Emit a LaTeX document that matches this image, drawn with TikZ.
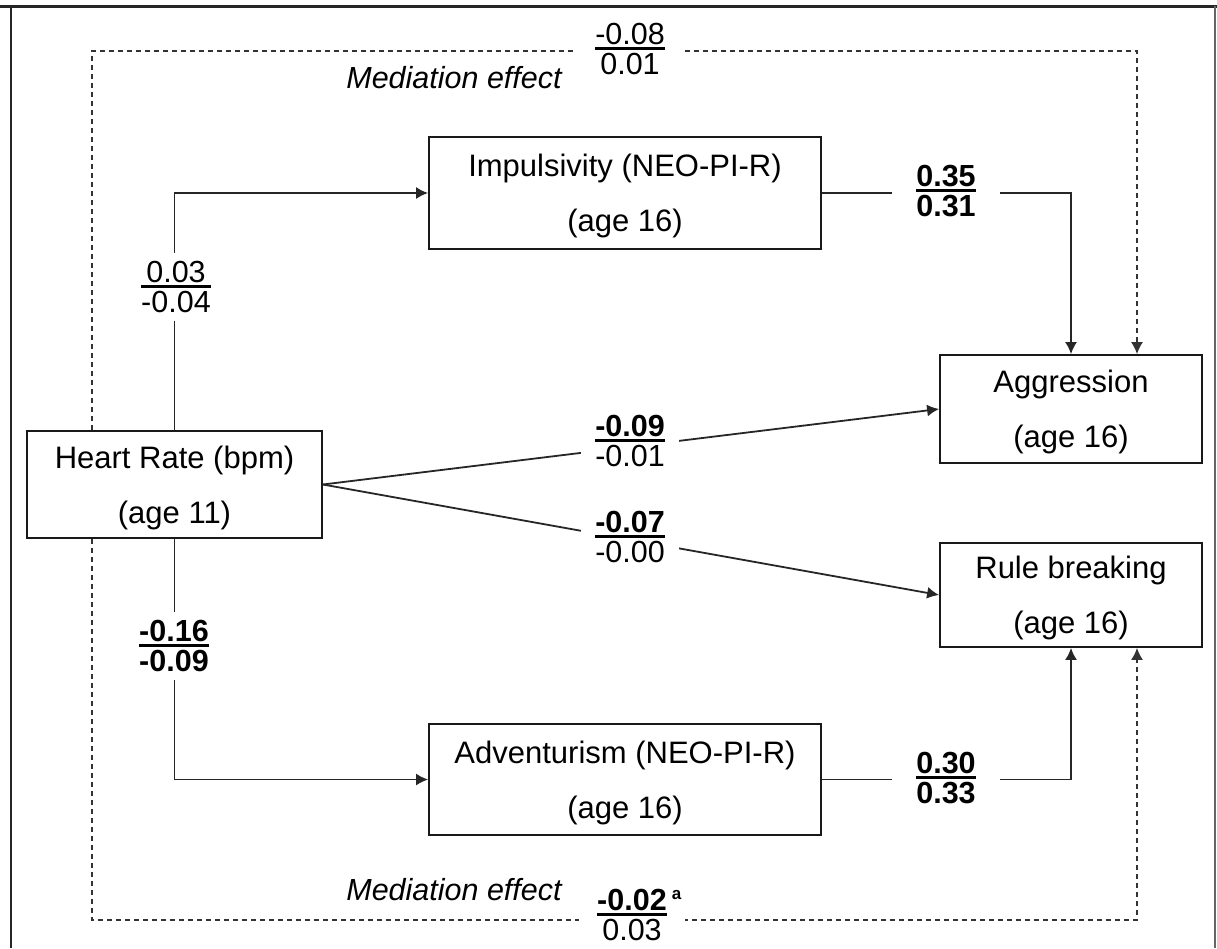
\documentclass[tikz,border=0pt]{standalone}
\usepackage{fontspec}
\setmainfont{Liberation Sans}
\usetikzlibrary{arrows.meta}
\newdimen\frcw
\newcommand{\frc}[2]{\setbox0=\hbox{#1}\setbox2=\hbox{#2}%
\ifdim\wd0>\wd2 \frcw=\wd0 \else \frcw=\wd2 \fi
\vbox{\hbox to\frcw{\hss\box0\hss}\kern2.3pt\hrule height2.6pt\kern3.3pt\hbox to\frcw{\hss\box2\hss}}}
\newcommand{\topstrut}{\rule{0pt}{29pt}}
\tikzset{
  box/.style={draw=black!90, line width=1.8pt, fill=white, inner sep=0pt, align=center,
    font=\fontsize{31}{55}\selectfont},
  arr/.style={line width=1.8pt, draw=black!85, -{Latex[length=12pt,width=12pt]}},
  med/.style={line width=1.6pt, draw=black!80, dash pattern=on 5pt off 4pt, -{Latex[length=12pt,width=12pt]}},
  lab/.style={fill=white, inner sep=0pt, font=\fontsize{30.5}{36}\selectfont},
  medtext/.style={inner sep=0pt, font=\fontsize{30.5}{36}\selectfont\itshape}
}
\begin{document}
\begin{tikzpicture}[x=1pt, y=-1pt]
\useasboundingbox (0,0) rectangle (1217,948);
% frame
\draw[line width=3pt, black!85] (0,6) -- (1217,6);
\draw[line width=2.6pt, black!85] (11,6) -- (11,948);
\draw[line width=1.4pt, black!60] (1215,6) -- (1215,948);
% boxes
\node[box, minimum width=392pt, minimum height=112pt] (Imp) at (625,193) {\topstrut Impulsivity (NEO-PI-R)\\(age 16)};
\node[box, minimum width=295pt, minimum height=107pt] (HR) at (174.5,484.5) {\topstrut Heart Rate (bpm)\\(age 11)};
\node[box, minimum width=262pt, minimum height=108pt] (Agg) at (1071,409) {\topstrut Aggression\\(age 16)};
\node[box, minimum width=262pt, minimum height=104pt] (RB) at (1071,595) {\topstrut Rule breaking\\(age 16)};
\node[box, minimum width=392pt, minimum height=111pt] (Adv) at (625,779.5) {\topstrut Adventurism (NEO-PI-R)\\(age 16)};
% mediation corners
\coordinate (tl) at (92,51);
\coordinate (tr) at (1137,51);
\coordinate (bl) at (92,920);
\coordinate (br) at (1137,920);
\draw[med] (HR.north -| tl) -- (tl) -- (tr) -- (Agg.north -| tr);
\draw[med] (HR.south -| bl) -- (bl) -- (br) -- (RB.south -| br);
% paths
\draw[arr] (HR.north) |- (Imp.west);
\draw[arr] (HR.south) |- (Adv.west);
\draw[arr] (Imp.east) -| (Agg.north);
\draw[arr] (Adv.east) -| (RB.south);
\draw[arr] (HR.east) -- (Agg.west);
\draw[arr] (HR.east) -- (RB.west);
% labels
\node[lab, inner xsep=18pt, inner ysep=2pt] (l1) at (630,49) {\frc{-0.08}{0.01}};
\node[lab, inner xsep=18pt, inner ysep=2pt] (l2) at (632,915) {\frc{\textbf{-0.02}\rlap{\,\raisebox{11pt}{\fontsize{17}{17}\selectfont\textbf{a}}}}{0.03}};
\node[lab, inner ysep=8pt, inner xsep=2pt] (l3) at (176,287) {\frc{0.03}{-0.04}};
\node[lab, inner ysep=8pt, inner xsep=2pt] (l4) at (174,646) {\frc{\textbf{-0.16}}{\textbf{-0.09}}};
\node[lab, inner xsep=24pt, inner ysep=2pt] (l5) at (946,191) {\frc{\textbf{0.35}}{\textbf{0.31}}};
\node[lab, inner xsep=24pt, inner ysep=2pt] (l6) at (946,778) {\frc{\textbf{0.30}}{\textbf{0.33}}};
\node[lab, inner xsep=14pt, inner ysep=2pt] (l7) at (630,441) {\frc{\textbf{-0.09}}{-0.01}};
\node[lab, inner xsep=14pt, inner ysep=2pt] (l8) at (630,537) {\frc{\textbf{-0.07}}{-0.00}};
\node[medtext] (m1) at (454,78) {Mediation effect};
\node[medtext] (m2) at (454,890) {Mediation effect};
\end{tikzpicture}
\end{document}
